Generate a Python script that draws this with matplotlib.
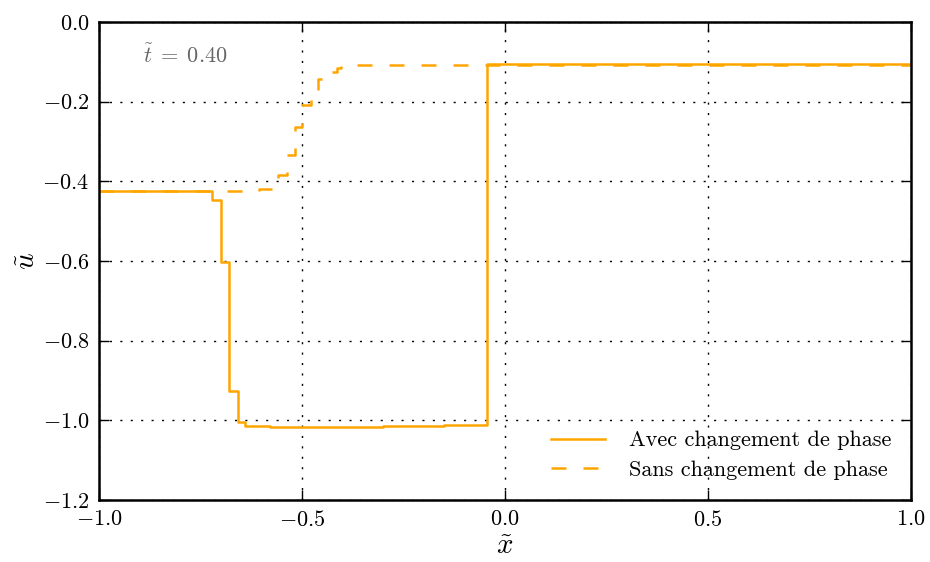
import matplotlib
matplotlib.use("Agg")
import matplotlib.pyplot as plt
import numpy as np

# values (step curves, x = start of each level)
x_avec = [-1.0, -0.722, -0.699, -0.679, -0.658, -0.640, -0.58, -0.45, -0.30, -0.15, -0.045, 1.0]
u_avec = [-0.425, -0.447, -0.603, -0.926, -1.005, -1.013, -1.016, -1.016, -1.014, -1.011, -0.106, -0.106]

x_sans = [-1.0, -0.605, -0.558, -0.537, -0.518, -0.499, -0.478, -0.460, -0.430, -0.415, -0.405, 1.0]
u_sans = [-0.425, -0.420, -0.383, -0.334, -0.263, -0.209, -0.170, -0.144, -0.125, -0.115, -0.107, -0.106]

xticks = [-1.0, -0.5, 0.0, 0.5, 1.0]
yticks = [-1.2, -1.0, -0.8, -0.6, -0.4, -0.2, 0.0]

plt.rcParams['font.family'] = 'serif'
plt.rcParams['font.serif'] = ['cmr10', 'DejaVu Serif']
plt.rcParams['mathtext.fontset'] = 'cm'
plt.rcParams['axes.formatter.use_mathtext'] = True
plt.rcParams['axes.unicode_minus'] = True

fig = plt.figure(figsize=(9.3, 5.62), dpi=100)
ax = fig.add_axes([0.1065, 0.1103, 0.8731, 0.8506])

ax.step(x_avec, u_avec, where='post', color='#FFA500', lw=1.8, label='Avec changement de phase')
ax.step(x_sans, u_sans, where='post', color='#FFA500', lw=1.8, ls=(0, (6, 6.8)),
        label='Sans changement de phase')

ax.set_xlim(-1.0, 1.0)
ax.set_ylim(-1.2, 0.0)
ax.set_xticks(xticks)
ax.set_yticks(yticks)
ax.grid(True, color='black', ls=(0, (1.5, 6)), lw=1)
ax.tick_params(direction='in', top=True, right=True, length=7, width=1, labelsize=16, pad=7)
for s in ax.spines.values():
    s.set_linewidth(1.8)

ax.set_xlabel(r'$\tilde{x}$', fontsize=21, labelpad=3)
ax.set_ylabel(r'$\tilde{u}$', fontsize=21, labelpad=1)
ax.text(0.054, 0.93, r'$\tilde{t}\;=\;0.40$', transform=ax.transAxes, color='0.4',
        fontsize=16, va='center')

leg = ax.legend(loc='lower right', frameon=False, fontsize=16, handlelength=2.45,
                handletextpad=1.05, labelspacing=0.45, borderaxespad=0.5)

fig.savefig('out.png', dpi=100)
